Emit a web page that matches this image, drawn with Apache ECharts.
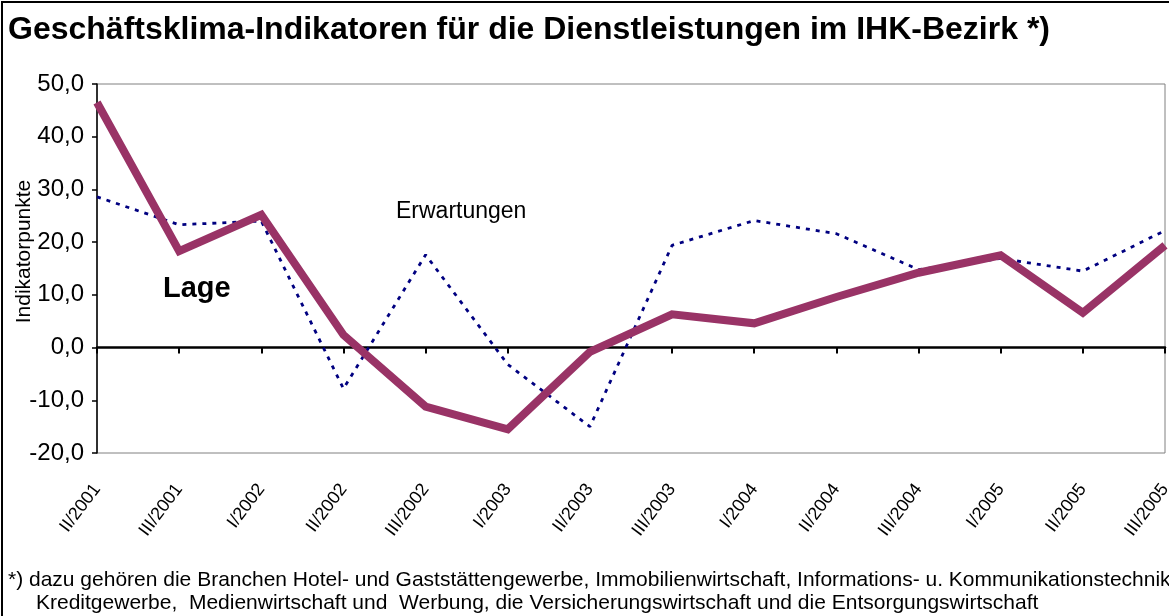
<!DOCTYPE html>
<html>
<head>
<meta charset="utf-8">
<script src="https://cdn.jsdelivr.net/npm/echarts@6/dist/echarts.min.js"></script>
<style>
  html, body { margin: 0; padding: 0; background: #fff; }
  #chart { width: 1169px; height: 616px; }
</style>
</head>
<body>
<div id="chart"></div>
<script>
// Befragungszeitpunkte (drei Umfragen pro Jahr)
var categories = ["II/2001", "III/2001", "I/2002", "II/2002", "III/2002", "I/2003", "II/2003",
  "III/2003", "I/2004", "II/2004", "III/2004", "I/2005", "II/2005", "III/2005"];
// Lage
var lage = [46.5, 18.3, 25.2, 2.4, -11.2, -15.5, -0.8, 6.3, 4.6, 9.6, 14.2, 17.5, 6.6, 19.4];
// Erwartungen
var erwartungen = [28.6, 23.3, 24.0, -7.8, 17.6, -3.2, -15.0, 19.4, 24.1, 21.6, 14.8, 16.9, 14.5, 22.2];

var fontFamily = "'Liberation Sans', Arial, sans-serif";

var myChart = echarts.init(document.getElementById("chart"));
myChart.setOption({
  animation: false,
  backgroundColor: "#fff",
  textStyle: { fontFamily: fontFamily },
  title: {
    text: "Geschäftsklima-Indikatoren für die Dienstleistungen im IHK-Bezirk *)",
    left: 3,
    top: 9,
    textStyle: { fontSize: 32, fontWeight: "bold", color: "#000", fontFamily: fontFamily }
  },
  grid: {
    left: 97,
    right: 4,
    top: 84,
    bottom: 163,
    containLabel: false,
    outerBoundsMode: "none",
    show: true,
    borderColor: "#808080",
    borderWidth: 1
  },
  xAxis: [
    {
      type: "category",
      data: categories,
      boundaryGap: false,
      position: "bottom",
      axisLine: { onZero: true, lineStyle: { color: "#000", width: 2.5 } },
      axisTick: { show: true, inside: false, length: 6, lineStyle: { color: "#000", width: 2 } },
      axisLabel: { show: false },
      splitLine: { show: false }
    },
    {
      type: "category",
      data: categories,
      boundaryGap: false,
      position: "bottom",
      axisLine: { show: false, onZero: false },
      axisTick: { show: false },
      axisLabel: {
        rotate: 53,
        margin: 33,
        fontSize: 18,
        color: "#000",
        fontFamily: fontFamily
      },
      splitLine: { show: false }
    }
  ],
  yAxis: {
    type: "value",
    min: -20,
    max: 50,
    interval: 10,
    name: "Indikatorpunkte",
    nameLocation: "middle",
    nameGap: 62,
    nameRotate: 90,
    nameMoveOverlap: false,
    nameTextStyle: { fontSize: 21, color: "#000", padding: [0, 0, 0, 34] },
    axisLine: { show: true, lineStyle: { color: "#000", width: 1.5 } },
    axisTick: { show: true, inside: false, length: 5, lineStyle: { color: "#000", width: 1.5 } },
    axisLabel: {
      fontSize: 24,
      color: "#000",
      margin: 13,
      formatter: function(v) {
        return v.toFixed(1).replace(".", ",");
      }
    },
    splitLine: { show: false }
  },
  series: [
    {
      name: "Erwartungen",
      type: "line",
      data: erwartungen,
      xAxisIndex: 0,
      symbol: "none",
      lineStyle: { color: "#000080", width: 2.8, type: [4, 6] },
      z: 2
    },
    {
      name: "Lage",
      type: "line",
      data: lage,
      xAxisIndex: 0,
      symbol: "none",
      lineStyle: { color: "#993366", width: 8, join: "miter" },
      z: 3
    }
  ],
  graphic: [
    {
      type: "rect",
      shape: { x: 2, y: 2, width: 1200, height: 700 },
      style: { fill: null, stroke: "#000", lineWidth: 2 },
      silent: true
    },
    {
      type: "text",
      left: 163,
      top: 274,
      style: { text: "Lage", fontSize: 29, fontWeight: "bold", fill: "#000", fontFamily: fontFamily }
    },
    {
      type: "text",
      left: 396,
      top: 200,
      style: { text: "Erwartungen", fontSize: 23, fill: "#000", fontFamily: fontFamily }
    },
    {
      type: "text",
      left: 8,
      top: 570,
      style: {
        text: "*) dazu gehören die Branchen Hotel- und Gaststättengewerbe, Immobilienwirtschaft, Informations- u. Kommunikationstechnik,",
        fontSize: 21,
        fill: "#000",
        fontFamily: fontFamily
      }
    },
    {
      type: "text",
      left: 36,
      top: 593,
      style: {
        text: "Kreditgewerbe,  Medienwirtschaft und  Werbung, die Versicherungswirtschaft und die Entsorgungswirtschaft",
        fontSize: 21,
        fill: "#000",
        fontFamily: fontFamily
      }
    }
  ]
});
</script>
</body>
</html>
